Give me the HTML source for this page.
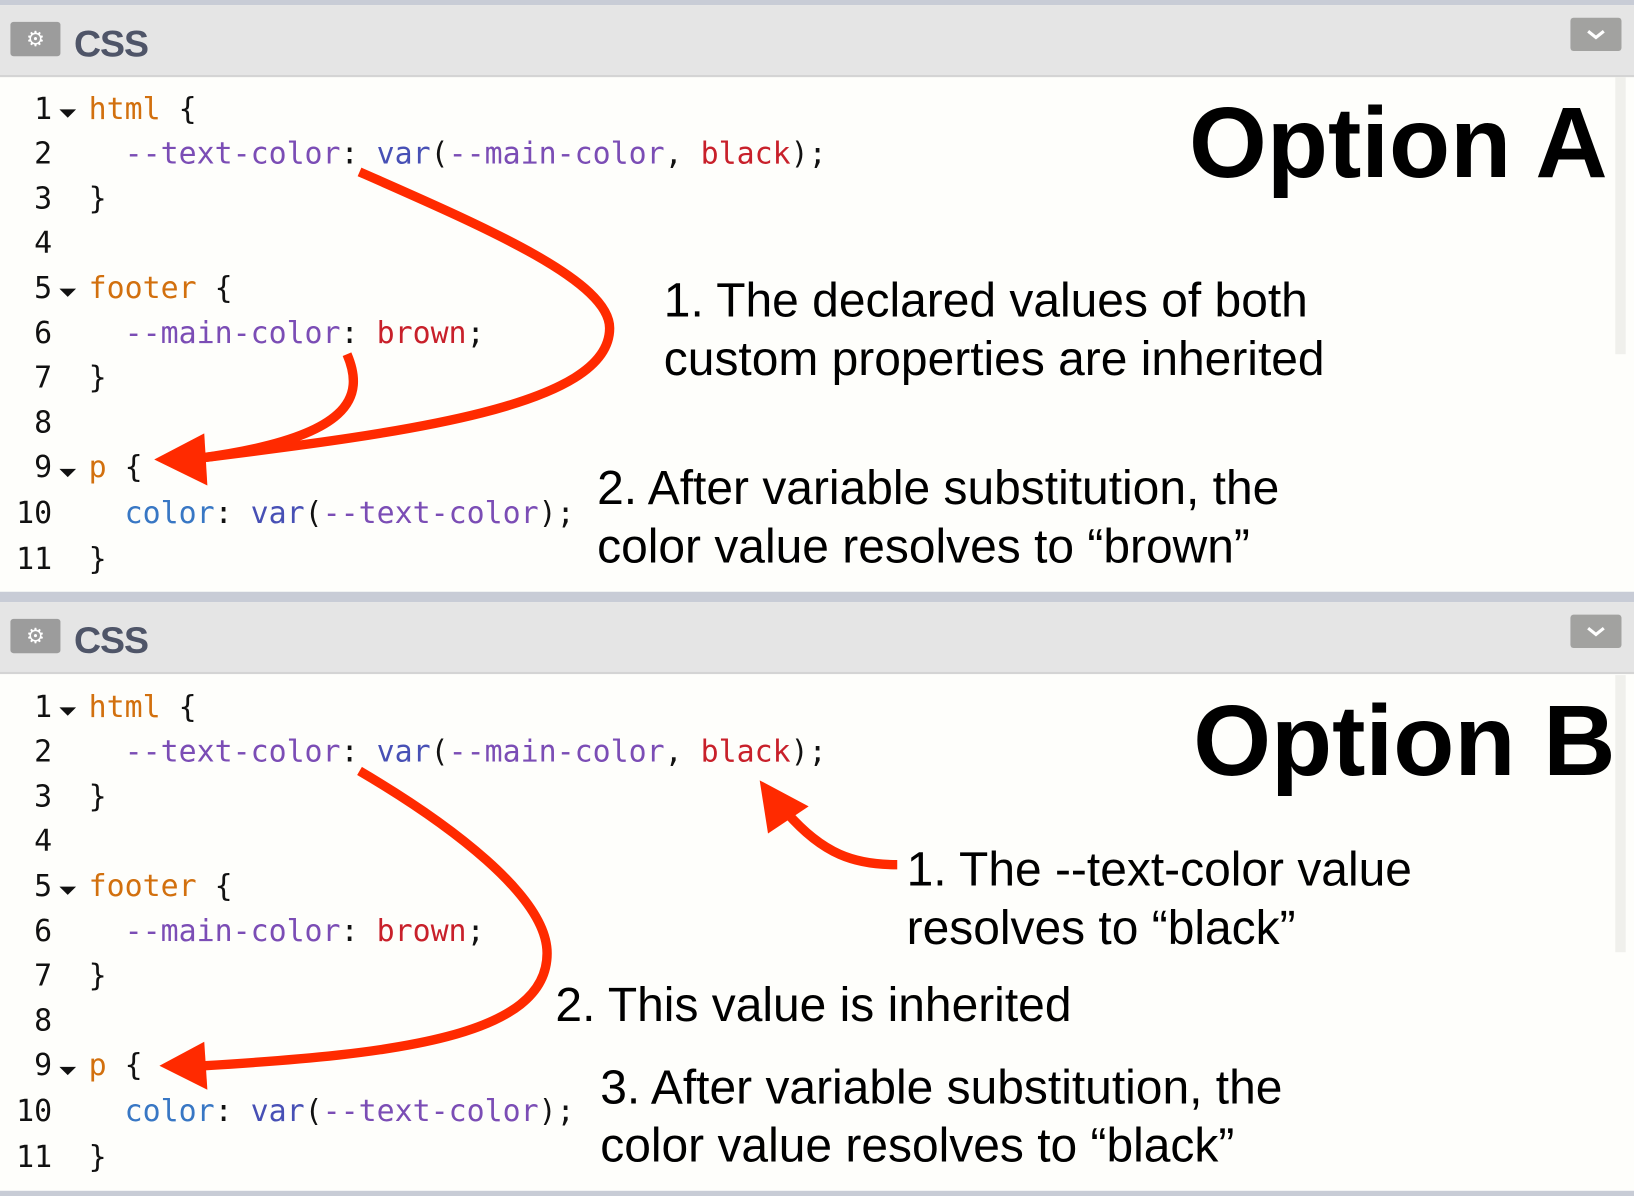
<!DOCTYPE html>
<html><head><meta charset="utf-8"><style>
html,body{margin:0;padding:0;width:1634px;height:1196px;overflow:hidden;background:#fefefb}
#w{position:absolute;left:0;top:0;width:1568px;height:1148px;transform:scale(1.04209,1.04181);transform-origin:0 0;background:#fefefb}
.band{position:absolute;left:0;width:1568px;background:#c8ccd6}
.hdr{position:absolute;left:0;width:1568px;height:67px;background:#e5e5e5;border-bottom:2px solid #d4d4d4}
.gear{position:absolute;left:10px;top:16px;width:48px;height:33px;background:#9c9c9c;border-radius:3px;color:#fff;font:20px "DejaVu Sans",sans-serif;text-align:center;line-height:33px}
.css{position:absolute;left:71px;top:16px;font:bold 36px "Liberation Sans",sans-serif;color:#4f5568;letter-spacing:-1px}
.chev{position:absolute;left:1507px;top:12px;width:49px;height:32px;background:#a2a2a0;border-radius:3px}
.scroll{position:absolute;left:1550px;width:10px;background:#f0f0ec}
.code{position:absolute;left:0;font:28.7px "DejaVu Sans Mono","Liberation Mono",monospace;white-space:pre;color:#111}
.ln{position:absolute;width:50px;text-align:right}
.tx{position:absolute;left:85px}
.tri{position:absolute;left:57px;width:0;height:0;border-left:8px solid transparent;border-right:8px solid transparent;border-top:8px solid #111}
.o{color:#d2700e}.pu{color:#7b4db5}.bl{color:#4750b5}.rd{color:#c8202a}.cb{color:#3877c4}
.ann{position:absolute;font:46px "Liberation Sans",sans-serif;color:#000;white-space:nowrap;line-height:56px}
.opt{position:absolute;font:bold 96px "Liberation Sans",sans-serif;color:#000;white-space:nowrap}
</style></head><body><div id="w">
<div class="band" style="top:0;height:5px"></div>
<div class="hdr" style="top:5px"><div class="gear">⚙</div><div class="css">CSS</div><div class="chev"><svg width="49" height="32"><polyline points="17,13 24.5,19 32,13" fill="none" stroke="#fff" stroke-width="3"/></svg></div></div>
<div class="scroll" style="top:74px;height:266px"></div>
<div class="band" style="top:568px;height:10px"></div>
<div class="hdr" style="top:578px"><div class="gear">⚙</div><div class="css">CSS</div><div class="chev"><svg width="49" height="32"><polyline points="17,13 24.5,19 32,13" fill="none" stroke="#fff" stroke-width="3"/></svg></div></div>
<div class="scroll" style="top:648px;height:266px"></div>
<div class="band" style="top:1143px;height:5px"></div>

<div class="code" style="top:87px">
<div class="ln" style="top:0">1</div><div class="tri" style="top:18px"></div><div class="tx" style="top:0"><span class="o">html</span> {</div>
<div class="ln" style="top:43px">2</div><div class="tx" style="top:43px">  <span class="pu">--text-color</span>: <span class="bl">var</span>(<span class="pu">--main-color</span>, <span class="rd">black</span>);</div>
<div class="ln" style="top:86px">3</div><div class="tx" style="top:86px">}</div>
<div class="ln" style="top:129px">4</div>
<div class="ln" style="top:172px">5</div><div class="tri" style="top:190px"></div><div class="tx" style="top:172px"><span class="o">footer</span> {</div>
<div class="ln" style="top:215px">6</div><div class="tx" style="top:215px">  <span class="pu">--main-color</span>: <span class="rd">brown</span>;</div>
<div class="ln" style="top:258px">7</div><div class="tx" style="top:258px">}</div>
<div class="ln" style="top:301px">8</div>
<div class="ln" style="top:344px">9</div><div class="tri" style="top:363px"></div><div class="tx" style="top:344px"><span class="o">p</span> {</div>
<div class="ln" style="top:388px">10</div><div class="tx" style="top:388px">  <span class="cb">color</span>: <span class="bl">var</span>(<span class="pu">--text-color</span>);</div>
<div class="ln" style="top:432px">11</div><div class="tx" style="top:432px">}</div>
</div>
<div class="code" style="top:661px">
<div class="ln" style="top:0">1</div><div class="tri" style="top:18px"></div><div class="tx" style="top:0"><span class="o">html</span> {</div>
<div class="ln" style="top:43px">2</div><div class="tx" style="top:43px">  <span class="pu">--text-color</span>: <span class="bl">var</span>(<span class="pu">--main-color</span>, <span class="rd">black</span>);</div>
<div class="ln" style="top:86px">3</div><div class="tx" style="top:86px">}</div>
<div class="ln" style="top:129px">4</div>
<div class="ln" style="top:172px">5</div><div class="tri" style="top:190px"></div><div class="tx" style="top:172px"><span class="o">footer</span> {</div>
<div class="ln" style="top:215px">6</div><div class="tx" style="top:215px">  <span class="pu">--main-color</span>: <span class="rd">brown</span>;</div>
<div class="ln" style="top:258px">7</div><div class="tx" style="top:258px">}</div>
<div class="ln" style="top:301px">8</div>
<div class="ln" style="top:344px">9</div><div class="tri" style="top:363px"></div><div class="tx" style="top:344px"><span class="o">p</span> {</div>
<div class="ln" style="top:388px">10</div><div class="tx" style="top:388px">  <span class="cb">color</span>: <span class="bl">var</span>(<span class="pu">--text-color</span>);</div>
<div class="ln" style="top:432px">11</div><div class="tx" style="top:432px">}</div>
</div>

<div class="opt" style="left:1141px;top:83px">Option A</div>
<div class="ann" style="left:637px;top:260px">1. The declared values of both</div>
<div class="ann" style="left:637px;top:316px">custom properties are inherited</div>
<div class="ann" style="left:573px;top:440px">2. After variable substitution, the</div>
<div class="ann" style="left:573px;top:496px">color value resolves to “brown”</div>

<div class="opt" style="left:1145px;top:657px">Option B</div>
<div class="ann" style="left:870px;top:806px">1. The --text-color value</div>
<div class="ann" style="left:870px;top:862px">resolves to “black”</div>
<div class="ann" style="left:533px;top:936px">2. This value is inherited</div>
<div class="ann" style="left:576px;top:1015px">3. After variable substitution, the</div>
<div class="ann" style="left:576px;top:1071px">color value resolves to “black”</div>

<svg style="position:absolute;left:0;top:0" width="1568" height="1148">
<g fill="none" stroke="#ff2a00" stroke-width="9" stroke-linecap="butt">
<path d="M345,165 C470,220 585,270 585,315 C585,390 390,415 190,440"/>
<path d="M333,340 C350,380 340,420 190,440"/>
<path d="M345,740 C430,790 525,860 525,915 C525,995 380,1012 195,1023"/>
<path d="M861,830 C820,830 790,820 755,780"/>
</g>
<g fill="#ff2a00">
<polygon points="148,441 196,416 199,466"/>
<polygon points="153,1023 196,1000 199,1046"/>
<polygon points="729,749 776,774 737,800"/>
</g>
</svg>
</div></body></html>
